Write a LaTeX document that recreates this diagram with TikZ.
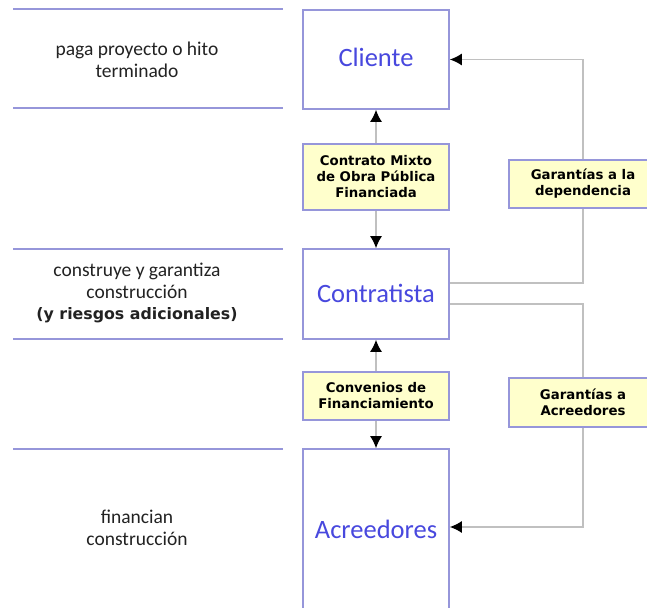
\documentclass[tikz,border=0pt]{standalone}
\usepackage{fontspec}
\setmainfont{Carlito}
\newfontfamily\boxfont{DejaVu Sans}
\usetikzlibrary{arrows.meta}
\definecolor{lav}{RGB}{150,150,218}
\definecolor{paleyellow}{RGB}{255,255,204}
\definecolor{titleblue}{RGB}{72,72,222}
\definecolor{conngray}{RGB}{192,192,192}
\definecolor{txt}{RGB}{34,34,34}
\begin{document}
\begin{tikzpicture}[x=1pt,y=-1pt,
  sepline/.style={draw=lav,line width=2.2pt},
  bigbox/.style={draw=lav,line width=1.6pt,fill=white,minimum width=146pt,inner sep=0pt,
    font=\fontsize{26.5}{30}\selectfont,text=titleblue},
  tagbox/.style={draw=lav,line width=1.6pt,fill=paleyellow,inner sep=0pt,align=center,
    font=\boxfont\bfseries\fontsize{13.3}{16}\selectfont,text=black},
  sidetext/.style={align=center,text=txt,font=\fontsize{19.5}{21.5}\selectfont},
  conn/.style={draw=conngray,line width=1.4pt},
  arr/.style={conn,-{Latex[color=black,length=12pt,width=12pt]}}
]
\begin{scope}
\clip (0,0) rectangle (647,607);
\fill[white] (0,0) rectangle (647,607);
% separator lines
\draw[sepline] (13,9) -- (283,9);
\draw[sepline] (13,108) -- (283,108);
\draw[sepline] (13,249) -- (283,249);
\draw[sepline] (13,339) -- (283,339);
\draw[sepline] (13,449) -- (283,449);
% side texts
\node[sidetext] (t1) at (137,60) {paga proyecto o hito\\terminado};
\node[sidetext] (t2) at (137,293) {construye y garantiza\\construcción\\{\boxfont\bfseries\fontsize{15.8}{21.5}\selectfont(y riesgos adicionales)}};
\node[sidetext] (t3) at (137,528) {financian\\construcción};
% main boxes
\node[bigbox,minimum height=99pt] (cliente) at (376,59.5) {\raisebox{4pt}{Cliente}};
\node[bigbox,minimum height=90pt] (contratista) at (376,294) {\raisebox{2pt}{Contratista}};
\node[bigbox,minimum height=166pt] (acreedores) at (376,532) {\raisebox{5pt}{Acreedores}};
% tag boxes
\node[tagbox,minimum width=146pt,minimum height=66pt] (contrato) at (376,177) {Contrato Mixto\\de Obra Pública\\Financiada};
\node[tagbox,minimum width=146pt,minimum height=48pt] (convenios) at (376,396) {Convenios de\\Financiamiento};
\node[tagbox,minimum width=148pt,minimum height=48pt] (gdep) at (583,184) {Garantías a la\\dependencia};
\node[tagbox,minimum width=148pt,minimum height=49pt] (gacr) at (583,402.5) {Garantías a\\Acreedores};
% connectors
\draw[arr] (contrato.north) -- (cliente.south);
\draw[arr] (contrato.south) -- (contratista.north);
\draw[arr] (convenios.north) -- (contratista.south);
\draw[arr] (convenios.south) -- (acreedores.north);
\draw[arr] (gdep.north) |- (cliente.east);
\draw[conn] (gdep.south) |- ([yshift=11pt]contratista.east);
\draw[conn] ([yshift=-10pt]contratista.east) -| (gacr.north);
\draw[arr] (gacr.south) |- ([yshift=5pt]acreedores.east);
\end{scope}
\pgfresetboundingbox
\useasboundingbox (0,0) rectangle (647,607);
\end{tikzpicture}
\end{document}
